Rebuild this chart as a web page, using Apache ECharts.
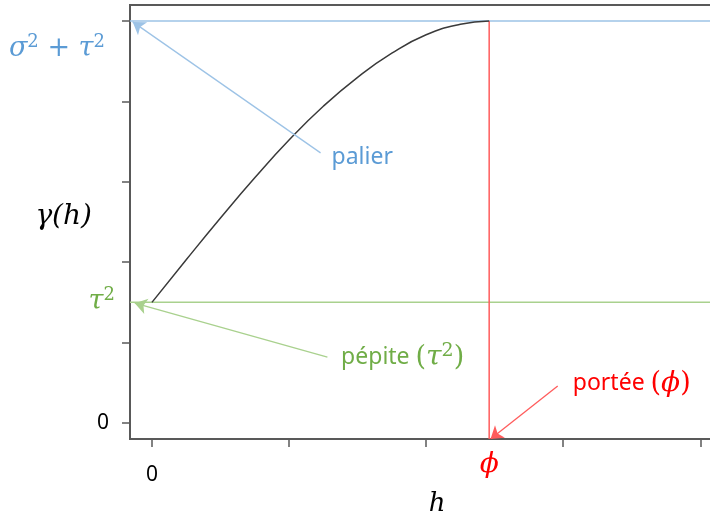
<!DOCTYPE html>
<html><head><meta charset="utf-8">
<script src="https://cdn.jsdelivr.net/npm/echarts@6/dist/echarts.min.js"></script>
<style>html,body{margin:0;padding:0;background:#fff}#c{width:710px;height:511px}</style>
</head><body><div id="c"></div>
<script>
// variogram curve (h, gamma)
const hValues = [0, 0.25, 0.5, 0.75, 1.0, 1.25, 1.5, 1.75, 2.0, 2.25, 2.46];
const gammaValues = [1.5, 2.03, 2.55, 3.05, 3.52, 3.94, 4.30, 4.60, 4.83, 4.96, 5.0];
const nugget = 1.5;
const sill = 5;
const rangePhi = 2.46;
const xMin = -0.16, xMax = 4.1, yMin = -0.2, yMax = 5.2;
const xTicks = [0, 1, 2, 3, 4];
const yTicks = [0, 1, 2, 3, 4, 5];
const xTickLabels = [0];
const yTickLabels = [0];
// annotation arrows: [fromX, fromY, toX, toY]
const arrowSill = [1.23, 3.36, -0.14, 4.99];
const arrowNugget = [1.28, 0.82, -0.125, 1.49];
const arrowRange = [2.96, 0.46, 2.47, -0.2];
// annotation text anchors
const textSill = [1.31, 3.30];
const textNugget = [1.38, 0.81];
const textRange = [3.07, 0.485];

const BLUE_T = '#5b9bd5', BLUE_L = '#9dc3e6';
const GREEN_T = '#70ad47', GREEN_L = '#a9d18e';
const RED_T = '#ff0000', RED_L = '#ff5c5c';
const MATH = '"DejaVu Serif", serif';
const SANS = '"Noto Sans", "Open Sans", sans-serif';

const curve = hValues.map((h, i) => [h, gammaValues[i]]);

const chart = echarts.init(document.getElementById('c'));
chart.setOption({
  animation: false,
  grid: {left: 130, top: 5, right: -4, bottom: 72, show: true, borderColor: '#595959', borderWidth: 2, outerBoundsMode: 'none', containLabel: false},
  xAxis: {
    type: 'value', min: xMin, max: xMax,
    splitLine: {show: false},
    axisLine: {onZero: false, lineStyle: {color: '#595959', width: 2}},
    axisTick: {customValues: xTicks, length: 8, lineStyle: {color: '#595959', width: 1.5}},
    axisLabel: {customValues: xTickLabels, color: '#000', fontSize: 21, fontFamily: SANS, margin: 26},
    name: 'h', nameLocation: 'middle', nameGap: 46,
    nameTextStyle: {fontFamily: MATH, fontStyle: 'italic', fontSize: 26, color: '#000', padding: [0, 0, 0, 30]}
  },
  yAxis: {
    type: 'value', min: yMin, max: yMax,
    splitLine: {show: false},
    axisLine: {onZero: false, lineStyle: {color: '#595959', width: 2}},
    axisTick: {customValues: yTicks, length: 8, lineStyle: {color: '#595959', width: 1.5}},
    axisLabel: {customValues: yTickLabels, color: '#000', fontSize: 21, fontFamily: SANS, margin: 21}
  },
  series: [
    {type: 'line', data: [[xMin, sill], [xMax, sill]], symbol: 'none', lineStyle: {color: BLUE_L, width: 1.5}, z: 2},
    {type: 'line', data: [[xMin, nugget], [xMax, nugget]], symbol: 'none', lineStyle: {color: GREEN_L, width: 1.5}, z: 2},
    {type: 'line', data: [[rangePhi, sill], [rangePhi, yMin]], symbol: 'none', lineStyle: {color: RED_L, width: 1.5}, z: 2},
    {type: 'line', data: curve, smooth: true, symbol: 'none', lineStyle: {color: '#3a3a3a', width: 1.5}, z: 3},
    {type: 'lines', coordinateSystem: 'cartesian2d', symbol: ['none', 'arrow'], symbolSize: 12, z: 4,
      data: [
        {coords: [[arrowSill[0], arrowSill[1]], [arrowSill[2], arrowSill[3]]], lineStyle: {color: BLUE_L, width: 1.3, opacity: 1}},
        {coords: [[arrowNugget[0], arrowNugget[1]], [arrowNugget[2], arrowNugget[3]]], lineStyle: {color: GREEN_L, width: 1.3, opacity: 1}},
        {coords: [[arrowRange[0], arrowRange[1]], [arrowRange[2], arrowRange[3]]], lineStyle: {color: RED_L, width: 1.3, opacity: 1}}
      ]},
    {type: 'scatter', symbolSize: 0, clip: false, z: 5, silent: true, itemStyle: {opacity: 1},
      data: [
        {value: textSill, label: {show: true, position: 'right', distance: 0, formatter: 'palier', color: BLUE_T, fontSize: 23, fontFamily: SANS}},
        {value: textNugget, label: {show: true, position: 'right', distance: 0, formatter: 'pépite {p|(}{m|τ}{s|2}{p|)}', color: GREEN_T, fontSize: 23, fontFamily: SANS,
          rich: {p: {fontFamily: MATH, fontSize: 27, color: GREEN_T}, m: {fontFamily: MATH, fontStyle: 'italic', fontSize: 28, color: GREEN_T}, s: {fontFamily: MATH, fontSize: 19, color: GREEN_T, padding: [0, 0, 14, 0]}}}},
        {value: textRange, label: {show: true, position: 'right', distance: 0, formatter: 'portée {p|(}{m|ϕ}{p|)}', color: RED_T, fontSize: 23, fontFamily: SANS,
          rich: {p: {fontFamily: MATH, fontSize: 27, color: RED_T}, m: {fontFamily: MATH, fontStyle: 'italic', fontSize: 28, color: RED_T}}}},
        {value: [rangePhi, yMin], label: {show: true, position: 'bottom', distance: 12, formatter: 'ϕ', color: RED_T, fontSize: 28, fontFamily: MATH, fontStyle: 'italic'}},
        {value: [xMin, sill], label: {show: true, position: 'left', distance: 25, offset: [0, 28], formatter: '{m|σ}{s|2}{m| + τ}{s|2}',
          rich: {m: {fontFamily: MATH, fontStyle: 'italic', fontSize: 27, color: BLUE_T}, s: {fontFamily: MATH, fontSize: 18, color: BLUE_T, padding: [0, 0, 14, 0]}}}},
        {value: [xMin, nugget], label: {show: true, position: 'left', distance: 15, formatter: '{m|τ}{s|2}',
          rich: {m: {fontFamily: MATH, fontStyle: 'italic', fontSize: 27, color: GREEN_T}, s: {fontFamily: MATH, fontSize: 18, color: GREEN_T, padding: [0, 0, 14, 0]}}}},
        {value: [xMin, 2.56], label: {show: true, position: 'left', distance: 38, formatter: 'γ(h)', color: '#000', fontSize: 28, fontFamily: MATH, fontStyle: 'italic'}}
      ]}
  ]
});
</script></body></html>
